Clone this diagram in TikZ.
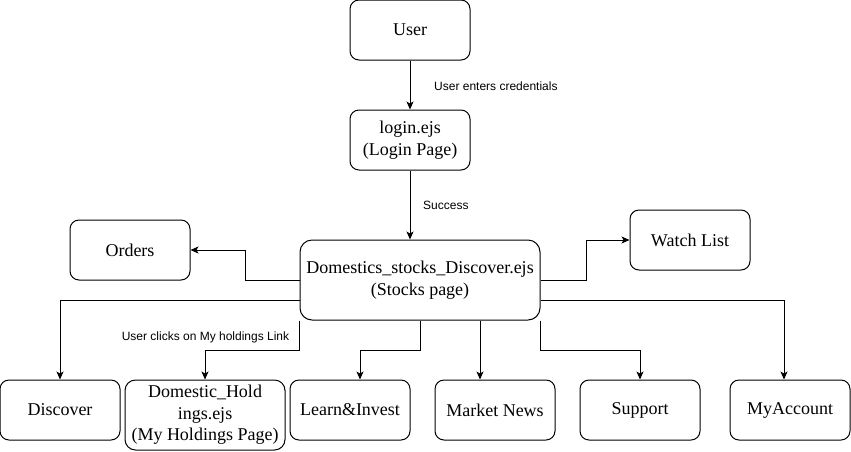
\documentclass[tikz,border=0pt]{standalone}
\usepackage{fontspec}
\setmainfont{Liberation Serif}
\newfontfamily\lblfont{Liberation Sans}
\usetikzlibrary{arrows.meta,calc}
\begin{document}
\begin{tikzpicture}[x=1pt,y=-1pt,
  box/.style={draw,line width=1pt,rounded corners=9pt,minimum width=120pt,minimum height=60pt,inner sep=0pt,align=center,font=\fontsize{18}{21.6}\selectfont},
  conn/.style={line width=1pt,-{Stealth[length=8pt,width=7pt,inset=2pt]}},
  lbl/.style={font=\lblfont\fontsize{12}{14}\selectfont,inner sep=0pt}]
\useasboundingbox (0,0) rectangle (851,451);
\node[box] (user) at (410,30) {User};
\node[box] (login) at (410,140) {login.ejs\\(Login Page)};
\node[box,minimum width=240pt,minimum height=80pt,rounded corners=12pt] (dom) at (420,280) {Domestics\_stocks\_Discover.ejs\\(Stocks page)};
\node[box] (orders) at (130,250) {Orders};
\node[box] (watch) at (690,240) {Watch List};
\node[box] (disc) at (60,410) {Discover};
\node[box,minimum width=160pt,minimum height=70pt,rounded corners=10.5pt] (hold) at (205,415) {Domestic\_Hold\\ings.ejs\\(My Holdings Page)};
\node[box] (learn) at (350,410) {Learn\&Invest};
\node[box] (news) at (495,410) {Market News};
\node[box] (sup) at (640,410) {Support};
\node[box] (acc) at (790,410) {MyAccount};

\draw[conn] (user) -- (login);
\draw[conn] (login) -- (login.south |- dom.north);
\draw[conn] (dom.west) -- ++(-54,0) |- (orders.east);
\draw[conn] ($(dom.west)+(0,20)$) -| (disc.north);
\draw[conn] (dom.south west) -- ++(0,30) -| (hold.north);
\draw[conn] (dom.south) -- ++(0,30) -| ($(learn.north)+(10,0)$);
\draw[conn] ($(dom.south)+(60,0)$) -- ($(news.north)+(-15,0)$);
\draw[conn] (dom.south east) -- ++(0,30) -| (sup.north);
\draw[conn] ($(dom.east)+(0,20)$) -| ($(acc.north)+(-6,0)$);
\draw[conn] (dom.east) -- ++(46,0) |- (watch.west);

\node[lbl,anchor=west] (l1) at (434,86) {User enters credentials};
\node[lbl,anchor=west] (l2) at (423,205) {Success};
\node[lbl] (l3) at (205.5,337) {User clicks on My holdings Link};
\end{tikzpicture}
\end{document}
